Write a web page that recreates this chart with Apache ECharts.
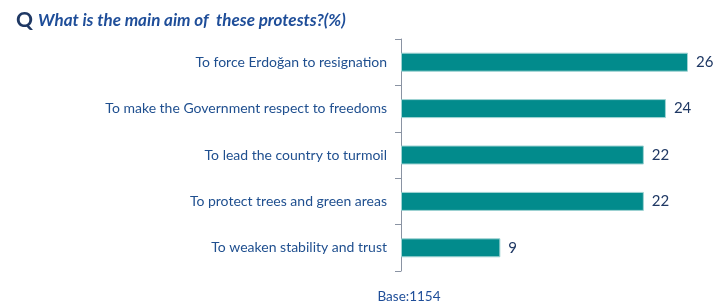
<!DOCTYPE html>
<html>
<head>
<meta charset="utf-8">
<script src="https://cdn.jsdelivr.net/npm/echarts@6/dist/echarts.min.js"></script>
<style>
  html, body { margin: 0; padding: 0; background: #fff; }
  #main { width: 728px; height: 308px; }
</style>
</head>
<body>
<div id="main"></div>
<script>
// chart data
var categories = [
    'To force Erdoğan to resignation',
    'To make the Government respect to freedoms',
    'To lead the country to turmoil',
    'To protect trees and green areas',
    'To weaken stability and trust'
];
var values = [26, 24, 22, 22, 9];
var baseText = 'Base:1154';

var myChart = echarts.init(document.getElementById('main'));

var option = {
    backgroundColor: '#ffffff',
    animation: false,
    title: [
        {
            text: '{q|Q} {t|What is the main aim of  these protests?(%)}',
            left: 11,
            top: 5,
            textStyle: {
                rich: {
                    q: { fontFamily: 'Lato', fontWeight: 'bold', fontSize: 21, color: '#1f3864' },
                    t: { fontFamily: 'Lato', fontStyle: 'italic', fontSize: 17, color: '#1f4e99' }
                }
            }
        },
        {
            text: baseText,
            left: 404,
            top: 285,
            textAlign: 'center',
            textStyle: { fontFamily: 'Lato', fontWeight: 'normal', fontSize: 13.5, color: '#1f4e99' }
        }
    ],
    grid: { left: 401, top: 39, width: 287, height: 232 },
    xAxis: {
        type: 'value',
        min: 0,
        max: 26,
        show: false
    },
    yAxis: {
        type: 'category',
        data: categories,
        inverse: true,
        axisLine: { show: true, lineStyle: { color: '#8a93a3', width: 1 } },
        axisTick: { show: true, length: 6, lineStyle: { color: '#8a93a3' } },
        axisLabel: {
            margin: 14,
            fontFamily: 'Lato',
            fontSize: 14,
            color: '#1f4f8f'
        }
    },
    series: [{
        type: 'bar',
        data: values,
        barWidth: 19,
        itemStyle: { color: '#028b8c', borderColor: '#9fd3d3', borderWidth: 1 },
        label: {
            show: true,
            position: 'right',
            distance: 8,
            fontFamily: 'Lato',
            fontSize: 15,
            color: '#1f3864'
        }
    }]
};

myChart.setOption(option);
</script>
</body>
</html>
